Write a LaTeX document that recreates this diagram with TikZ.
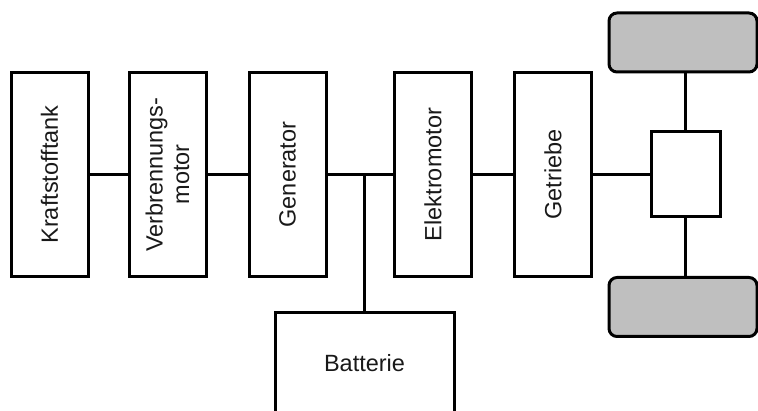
\documentclass[tikz,border=0pt]{standalone}
\usepackage{fontspec}
\setmainfont{Liberation Sans}
\definecolor{wheelgray}{HTML}{BFBFBF}
\begin{document}
\begin{tikzpicture}[x=1pt,y=-1pt,
  lw/.style={line width=3pt},
  txt/.style={font=\fontsize{23.5}{26.5}\selectfont, text=black!90},
  blk/.style={lw, draw, rotate=90, minimum width=204pt, minimum height=77pt,
    inner sep=0pt, align=center, txt},
  wheel/.style={lw, draw, fill=wheelgray, rounded corners=8pt,
    minimum width=148pt, minimum height=59pt, inner sep=0pt},
  conn/.style={lw}
]
\clip (0,0) rectangle (758,411);
\useasboundingbox (0,0) rectangle (758,411);

\node[blk] (tank) at (49.5,174.5) {Kraftstofftank};
\node[blk] (vm)   at (167.5,174.5) {Verbrennungs-\\motor};
\node[blk] (gen)  at (287.5,174.5) {Generator};
\node[blk] (em)   at (433,174.5) {Elektromotor};
\node[blk] (get)  at (553,174.5) {Getriebe};

\node[lw, draw, minimum width=69pt, minimum height=85pt, inner sep=0pt] (diff) at (685.5,174.5) {};
\node[wheel] (wt) at (683,42.5) {};
\node[wheel] (wb) at (683,307) {};

\node[lw, draw, minimum width=179pt, minimum height=120pt, inner sep=0pt, anchor=north] (bat) at (364.5,311) {};
\node[txt, inner sep=0pt] (batlabel) at (364.5,363) {Batterie};

\coordinate (j) at (364,174.5);

\draw[conn] (tank) -- (vm);
\draw[conn] (vm) -- (gen);
\draw[conn] (gen) -- (em);
\draw[conn] (em) -- (get);
\draw[conn] (get) -- (diff);
\draw[conn] (j) -- (j |- bat.north);
\draw[conn] (diff.north) -- (diff.north |- wt.south);
\draw[conn] (diff.south) -- (diff.south |- wb.north);
\end{tikzpicture}
\end{document}
